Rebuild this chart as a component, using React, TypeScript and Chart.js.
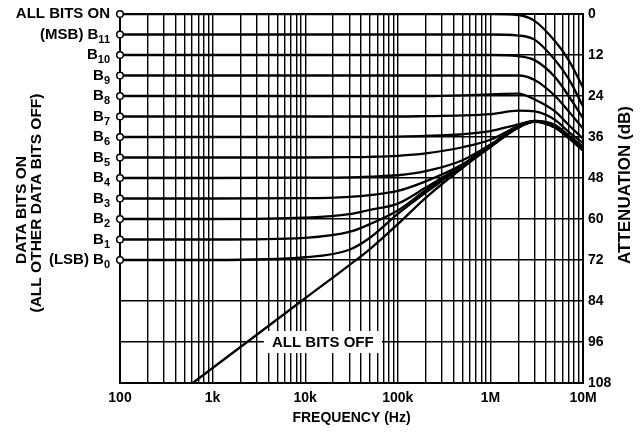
import React, { useEffect, useRef } from 'react';
import { Chart, registerables } from 'chart.js';

Chart.register(...registerables);

const FONT = '"Liberation Sans", Arial, Helvetica, sans-serif';

// Frequencies (Hz) at which the bit curves are read
const FREQ = [100, 1e3, 1e4, 3e4, 5e4, 1e5, 2e5, 5e5, 1e6, 2e6, 3e6, 5e6, 7e6, 1e7];
// Attenuation (dB) for each "data bit on" curve
const ALL_ON = [0, 0, 0, 0, 0, 0, 0, 0, 0, 0.3, 2, 8, 13.5, 21.5];
const B11 = [6, 6, 6, 6, 6, 6, 6, 6, 6, 6.3, 7.5, 13.5, 19, 27];
const B10 = [12, 12, 12, 12, 12, 12, 12, 12, 12, 12.3, 13.5, 18.5, 24, 30.5];
const B9 = [18, 18, 18, 18, 18, 18, 18, 18, 18, 18, 19.3, 24, 28.5, 33.5];
const B8 = [24, 24, 24, 24, 24, 24, 24, 23.8, 23.5, 23.3, 25, 28.5, 32.5, 36.5];
const B7 = [30, 30, 30, 30, 30, 30, 29.9, 29.7, 29.3, 28.3, 28.5, 31, 34.5, 37.8];
const B6 = [36, 36, 36, 36, 36, 35.9, 35.7, 35.2, 34.3, 32.3, 31.3, 32.5, 35.5, 38.8];
const B5 = [42, 42, 42, 41.9, 41.8, 41.5, 40.8, 39, 36.8, 32.8, 31.3, 32.8, 35.8, 39.2];
const B4 = [48, 48, 47.9, 47.8, 47.6, 47.2, 46, 42.8, 38.2, 33, 31.4, 33, 36, 39.5];
const B3 = [54, 54, 53.9, 53.5, 53, 51.8, 49, 44, 38.5, 33.1, 31.4, 33.1, 36.1, 39.6];
const B2 = [60, 60, 59.6, 58.6, 57.3, 55.5, 50.8, 44.2, 38.5, 33.1, 31.4, 33.1, 36.1, 39.7];
const B1 = [66, 66, 65.5, 63.8, 61.5, 57.5, 51.6, 44.3, 38.5, 33.2, 31.5, 33.2, 36.2, 39.8];
const B0 = [72, 72, 71.2, 69, 65.5, 58.5, 52.3, 44.4, 38.6, 33.2, 31.5, 33.2, 36.2, 39.8];

// "All bits off" feedthrough line
const OFF_FREQ = [610, 1e3, 1e4, 3e4, 5e4, 1e5, 2e5, 5e5, 1e6, 2e6, 3e6, 5e6, 7e6, 1e7];
const ALL_OFF = [108, 103.6, 83.2, 73.5, 68.8, 61.5, 53.8, 45, 39, 33.3, 31.6, 33.3, 36.3, 40];

// Left-hand labels
const BIT_LEVELS = [0, 6, 12, 18, 24, 30, 36, 42, 48, 54, 60, 66, 72];
const BIT_PREFIX = ['ALL BITS ON', '(MSB) B', 'B', 'B', 'B', 'B', 'B', 'B', 'B', 'B', 'B', 'B', '(LSB) B'];
const BIT_SUB = ['', '11', '10', '9', '8', '7', '6', '5', '4', '3', '2', '1', '0'];

// Axes
const X_DECADES = [100, 1e3, 1e4, 1e5, 1e6, 1e7];
const X_LABELS = ['100', '1k', '10k', '100k', '1M', '10M'];
const X_MINOR = [2, 3, 4, 5, 6, 7, 8, 9];
const Y_TICKS = [0, 12, 24, 36, 48, 60, 72, 84, 96, 108];

const OFF_LABEL = { text: 'ALL BITS OFF', freq: 15500, db: 96 };

const SERIES = [ALL_ON, B11, B10, B9, B8, B7, B6, B5, B4, B3, B2, B1, B0];

function buildXTicks(): number[] {
  const t: number[] = [];
  X_DECADES.forEach((d, i) => {
    t.push(d);
    if (i < X_DECADES.length - 1) X_MINOR.forEach((m) => t.push(d * m));
  });
  return t;
}

const overlay = {
  id: 'overlay',
  beforeDatasetsDraw(chart: any) {
    const { ctx, scales } = chart;
    const cx = scales.x.getPixelForValue(OFF_LABEL.freq);
    const cy = scales.y.getPixelForValue(OFF_LABEL.db);
    ctx.save();
    ctx.fillStyle = '#fff';
    ctx.fillRect(cx - 59, cy - 11, 118, 22);
    ctx.fillStyle = '#000';
    ctx.font = `bold 15px ${FONT}`;
    ctx.textAlign = 'center';
    ctx.textBaseline = 'middle';
    ctx.fillText(OFF_LABEL.text, cx, cy + 1);
    ctx.restore();
  },
  afterDatasetsDraw(chart: any) {
    const { ctx, chartArea: a, scales } = chart;
    ctx.save();
    // frame
    ctx.strokeStyle = '#000';
    ctx.lineWidth = 2;
    ctx.strokeRect(a.left, a.top, a.right - a.left, a.bottom - a.top);

    // bit labels + circles
    BIT_LEVELS.forEach((lv, i) => {
      const py = scales.y.getPixelForValue(lv);
      ctx.beginPath();
      ctx.arc(a.left, py, 3.3, 0, Math.PI * 2);
      ctx.fillStyle = '#fff';
      ctx.fill();
      ctx.lineWidth = 1.5;
      ctx.strokeStyle = '#000';
      ctx.stroke();

      ctx.fillStyle = '#000';
      ctx.textBaseline = 'middle';
      ctx.textAlign = 'right';
      const rightEdge = a.left - 10;
      let subW = 0;
      if (BIT_SUB[i]) {
        ctx.font = `bold 11px ${FONT}`;
        subW = ctx.measureText(BIT_SUB[i]).width;
        ctx.fillText(BIT_SUB[i], rightEdge, py + 5);
      }
      ctx.font = `bold 15px ${FONT}`;
      ctx.fillText(BIT_PREFIX[i], rightEdge - subW, py);
    });

    // left rotated title
    ctx.font = `bold 15.5px ${FONT}`;
    ctx.textAlign = 'center';
    ctx.textBaseline = 'middle';
    ctx.save();
    ctx.translate(22, 210);
    ctx.rotate(-Math.PI / 2);
    ctx.fillText('DATA BITS ON', 0, 0);
    ctx.restore();
    ctx.save();
    ctx.translate(37, 203);
    ctx.rotate(-Math.PI / 2);
    ctx.fillText('(ALL OTHER DATA BITS OFF)', 0, 0);
    ctx.restore();

    // right rotated title
    ctx.font = `bold 17px ${FONT}`;
    ctx.save();
    ctx.translate(625, 185);
    ctx.rotate(-Math.PI / 2);
    ctx.fillText('ATTENUATION (dB)', 0, 0);
    ctx.restore();

    // x title
    ctx.font = `bold 14px ${FONT}`;
    ctx.fillText('FREQUENCY (Hz)', (a.left + a.right) / 2, 418);
    ctx.restore();
  },
};

export default function App() {
  const ref = useRef<HTMLCanvasElement | null>(null);

  useEffect(() => {
    if (!ref.current) return;
    const xTicks = buildXTicks();
    const labelMap = new Map<number, string>();
    X_DECADES.forEach((d, i) => labelMap.set(d, X_LABELS[i]));

    const datasets: any[] = SERIES.map((vals, i) => ({
      label: i === 0 ? 'ALL BITS ON' : 'B' + BIT_SUB[i],
      data: FREQ.map((f, j) => ({ x: f, y: vals[j] })),
      borderColor: '#000',
      borderWidth: 2.3,
      pointRadius: 0,
      fill: false,
      cubicInterpolationMode: 'monotone',
    }));
    datasets.push({
      label: 'ALL BITS OFF',
      data: OFF_FREQ.map((f, j) => ({ x: f, y: ALL_OFF[j] })),
      borderColor: '#000',
      borderWidth: 2.3,
      pointRadius: 0,
      fill: false,
      cubicInterpolationMode: 'monotone',
    });

    const chart = new Chart(ref.current, {
      type: 'line',
      data: { datasets },
      options: {
        animation: false,
        responsive: false,
        devicePixelRatio: 1,
        layout: { padding: { left: 120, top: 14, right: 0, bottom: 0 } },
        plugins: { legend: { display: false }, tooltip: { enabled: false } },
        scales: {
          x: {
            type: 'logarithmic',
            min: 100,
            max: 1e7,
            afterBuildTicks: (s: any) => {
              s.ticks = xTicks.map((v) => ({ value: v }));
            },
            afterFit: (s: any) => {
              s.height = 50;
            },
            ticks: {
              autoSkip: false,
              maxRotation: 0,
              minRotation: 0,
              padding: 7,
              color: '#000',
              font: { family: FONT, size: 14, weight: 'bold' },
              callback: (v: any) => labelMap.get(Number(v)) ?? '',
            },
            grid: { color: '#000', lineWidth: 1.4, drawTicks: false },
            border: { display: false },
          },
          y: {
            type: 'linear',
            position: 'right',
            reverse: true,
            min: 0,
            max: 108,
            afterBuildTicks: (s: any) => {
              s.ticks = Y_TICKS.map((v) => ({ value: v }));
            },
            afterFit: (s: any) => {
              s.width = 58;
            },
            ticks: {
              autoSkip: false,
              padding: 5,
              color: '#000',
              font: { family: FONT, size: 14, weight: 'bold' },
              callback: (v: any) => String(v),
            },
            grid: { color: '#000', lineWidth: 1.4, drawTicks: false },
            border: { display: false },
          },
        },
      },
      plugins: [overlay],
    });
    return () => chart.destroy();
  }, []);

  return (
    <div style={{ position: 'fixed', left: 0, top: 0, width: 641, height: 433, background: '#fff' }}>
      <canvas ref={ref} width={641} height={433} style={{ display: 'block', width: 641, height: 433 }} />
    </div>
  );
}
